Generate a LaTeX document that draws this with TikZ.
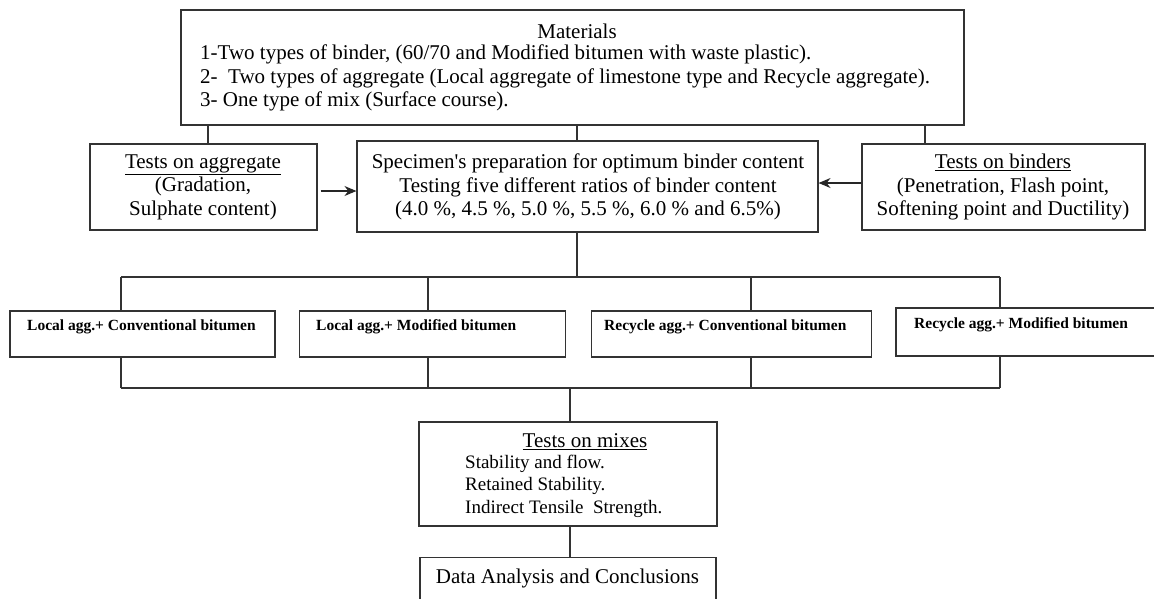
\documentclass[tikz,border=0pt]{standalone}
\usepackage{fontspec}
\setmainfont{Liberation Serif}
\usetikzlibrary{arrows.meta,positioning,calc}
\tikzset{
  box/.style={draw=black!80, line width=1.1pt, rectangle, inner sep=0pt},
  sz/.style 2 args={minimum width=#1pt, minimum height=#2pt},
  txt/.style={font=\fontsize{21}{23.5}\selectfont, align=center, inner sep=0pt},
  lst/.style={font=\fontsize{21}{23.5}\selectfont, align=left, inner sep=0pt, anchor=west},
  mixlbl/.style={font=\fontsize{15.5}{18}\selectfont\bfseries, inner sep=0pt, anchor=west},
  link/.style={draw=black!80, line width=1.1pt},
  flow/.style={-{Stealth[length=12pt,width=10pt]}, line width=1.2pt, black!85},
}

\begin{document}
\begin{tikzpicture}[x=1pt, y=-1pt, node distance=23pt]
  \useasboundingbox (0,0) rectangle (1154,598);
  % Materials
  \node[box, sz={783}{115}] (mat) at (572.5,67.5) {};
  \node[txt] (matT) at (577,31) {Materials};
  \node[lst] (matL) at (200,78) {1-Two types of binder, (60/70 and Modified bitumen with waste plastic).\\
    2-\ \ Two types of aggregate (Local aggregate of limestone type and Recycle aggregate).\\
    3- One type of mix (Surface course).};
  % Second row
  \node[box, sz={227}{86}] (agg) at (203.5,187) {};
  \node[box, sz={461}{91}] (spec) at (587.5,186.5) {};
  \node[box, sz={283}{86}] (bind) at (1003.5,187) {};
  \node[txt] (aggT) at (203,187) {\underline{Tests on aggregate}\\(Gradation,\\Sulphate content)};
  \node[txt] (specT) at (588,187) {Specimen\textquotesingle s preparation for optimum binder content\\
    Testing five different ratios of binder content\\
    (4.0 \%, 4.5 \%, 5.0 \%, 5.5 \%, 6.0 \% and 6.5\%)};
  \node[txt] (bindT) at (1003,187) {\underline{Tests on binders}\\(Penetration, Flash point,\\Softening point and Ductility)};
  % Mix combinations
  \node[box, sz={265}{46}] (lc) at (142.5,334) {};
  \node[box, sz={266}{46}, right=of lc] (lm) {};
  \node[box, sz={280}{46}, right=25pt of lm] (rc) {};
  \node[box, sz={264}{48}] (rm) at (1028,332) {};
  \node[mixlbl] (lcT) at (27,327) {Local agg.+ Conventional bitumen};
  \node[mixlbl] (lmT) at (316,327) {Local agg.+ Modified bitumen};
  \node[mixlbl] (rcT) at (604,327) {Recycle agg.+ Conventional bitumen};
  \node[mixlbl] (rmT) at (914,325) {Recycle agg.+ Modified bitumen};
  % Tests on mixes and conclusions
  \node[box, sz={298}{104}] (mix) at (568,474) {};
  \node[box, sz={296}{70}, below=30pt of mix] (data) {};
  \node[txt] (mixT) at (585,442) {\underline{Tests on mixes}};
  \node[lst, font=\fontsize{19}{22.5}\selectfont] (mixL) at (465,486) {Stability and flow.\\Retained Stability.\\Indirect Tensile\ \ Strength.};
  \node[txt, anchor=base] (dataT) at (567.5,583) {Data Analysis and Conclusions};

  % links from materials
  \coordinate (xa) at (208,0);
  \coordinate (xs) at (577,0);
  \coordinate (xb) at (925,0);
  \foreach \c/\n in {xa/agg, xs/spec, xb/bind}
    \draw[link] (\c |- mat.south) -- (\c |- \n.north);
  \coordinate (ag-a) at ([yshift=-4pt]agg.east);
  \coordinate (bi-a) at ([yshift=4pt]bind.west);
  \draw[flow] ([xshift=3pt]ag-a) -- (ag-a -| spec.west);
  \draw[flow] (bi-a) -- (bi-a -| spec.east);
  % upper and lower bus
  \coordinate (bt) at (577,277);
  \coordinate (bb) at (570,388);
  \draw[link] (bt |- spec.south) -- (bt);
  \foreach \n/\x in {lc/121, lm/428, rc/751, rm/1000} {
    \coordinate (\n-t) at (\x,277);
    \coordinate (\n-b) at (\x,388);
    \draw[link] (\n-t) -- (\n-t |- \n.north);
    \draw[link] (\n-b) -- (\n-b |- \n.south);
  }
  \draw[link] (lc-t) -- (rm-t);
  \draw[link] (lc-b) -- (rm-b);
  \draw[link] (bb) -- (bb |- mix.north);
  \draw[link] (bb |- mix.south) -- (bb |- data.north);
\end{tikzpicture}
\end{document}
